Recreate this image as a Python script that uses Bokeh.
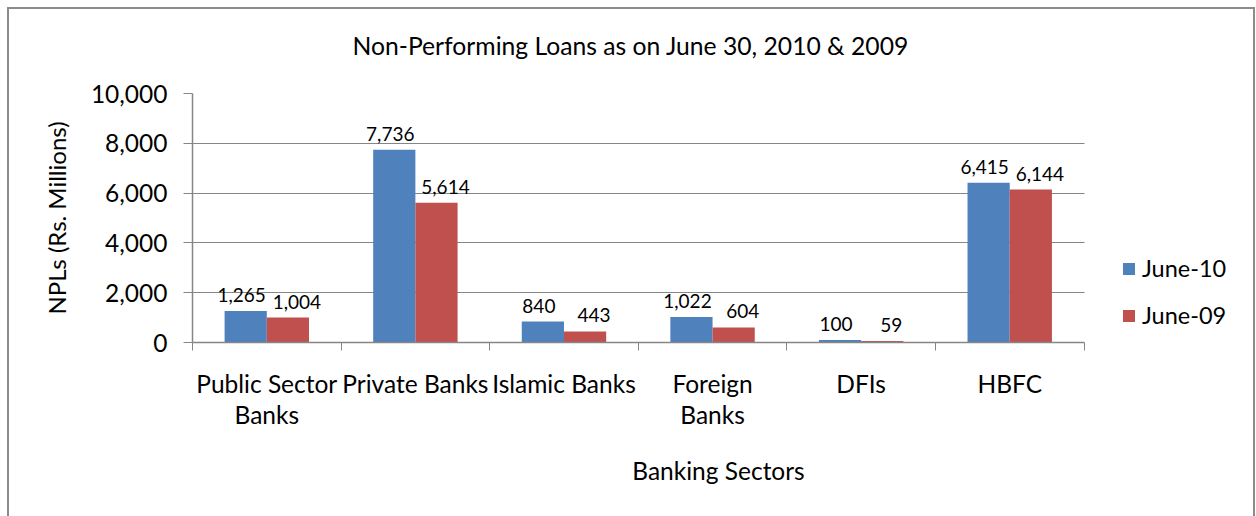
from bokeh.plotting import figure
from bokeh.models import (Range1d, LinearAxis, FixedTicker, Title,
                          NumeralTickFormatter, Legend, LegendItem, ColumnDataSource)
from bokeh.transform import dodge
from bokeh.core.properties import value
from bokeh.embed import file_html
from bokeh.resources import INLINE

# ---- data ----
sectors = ["Public Sector Banks", "Private Banks", "Islamic Banks", "Foreign Banks", "DFIs", "HBFC"]
label_line1 = ["Public Sector", "Private Banks", "Islamic Banks", "Foreign", "DFIs", "HBFC"]
label_line2 = ["Banks", "", "", "Banks", "", ""]
june_10 = [1265, 7736, 840, 1022, 100, 6415]
june_09 = [1004, 5614, 443, 604, 59, 6144]
series_names = ["June-10", "June-09"]
y_ticks = [0, 2000, 4000, 6000, 8000, 10000]
title_text = "Non-Performing Loans as on June 30, 2010 & 2009"

FONT = "Lato"
GRAY = "#868686"
BLUE = "#4F81BD"
RED = "#C0504D"
AX_FS = "24.5px"

n = len(sectors)
centers = [i + 0.5 for i in range(n)]      # category slots on the x scale

W, H = 1248, 509
CW = W - 4                     # canvas width inside the border
X_END = 7.08                   # room on the right of the categories for the legend
p = figure(x_range=Range1d(0, X_END), y_range=Range1d(0, 10000),
           width=W, height=H, output_backend="svg", toolbar_location=None,
           x_axis_location=None,
           min_border_left=183, min_border_right=CW - 1231,
           min_border_top=84, min_border_bottom=H - 333)
p.margin = (7, 0, 0, 7)
p.styles = {"border-left": "2px solid #8c8c8c", "border-top": "2px solid #8c8c8c",
            "border-right": "2px solid #8c8c8c", "box-sizing": "border-box"}
p.outline_line_color = None

# spacer between title and plot area: an axis above the frame with one white
# tick in the empty area on the right, no label
spacer_tick = n + 0.5
top_space = LinearAxis(ticker=FixedTicker(ticks=[spacer_tick]), major_tick_in=0, major_tick_out=29,
                       major_tick_line_color="white", minor_tick_line_color=None,
                       axis_line_color=None, major_label_overrides={spacer_tick: ""},
                       major_label_text_font_size="1px", major_label_standoff=0)
p.add_layout(top_space, "above")

# title (outside the spacer)
title = Title(text=title_text, align="left", offset=160, text_font=FONT,
              text_font_style="normal", text_font_size="24.7px", text_color="black",
              standoff=10)
p.add_layout(title, "above")

# y axis
ya = p.yaxis[0]
ya.ticker = FixedTicker(ticks=y_ticks)
ya.formatter = NumeralTickFormatter(format="0,0")
ya.major_tick_in = 0
ya.major_tick_out = 9
ya.minor_tick_line_color = None
ya.axis_line_color = GRAY
ya.axis_line_width = 1.5
ya.major_tick_line_color = GRAY
ya.major_label_text_font = FONT
ya.major_label_text_font_size = AX_FS
ya.major_label_text_color = "black"
ya.major_label_standoff = 16
ya.axis_label = "NPLs (Rs. Millions)"
ya.axis_label_text_font = FONT
ya.axis_label_text_font_style = "normal"
ya.axis_label_text_font_size = "24px"
ya.axis_label_text_color = "black"
ya.axis_label_standoff = 17

p.ygrid.ticker = FixedTicker(ticks=y_ticks)
p.ygrid.grid_line_color = GRAY
p.ygrid.cross_bounds = (0, n)
p.xgrid.grid_line_color = None

# x axis: tick marks at the category boundaries (minor ticks, no labels)
tick_axis = LinearAxis(ticker=FixedTicker(ticks=[], minor_ticks=list(range(n + 1))),
                       bounds=(0, n),
                       major_tick_line_color=None,
                       minor_tick_in=0, minor_tick_out=8, minor_tick_line_color=GRAY,
                       axis_line_color=GRAY, axis_line_width=1.5)
p.add_layout(tick_axis, "below")

line1_axis = LinearAxis(ticker=FixedTicker(ticks=centers),
                        major_label_overrides=dict(zip(centers, label_line1)),
                        major_tick_line_color=None, minor_tick_line_color=None,
                        axis_line_color=None,
                        major_label_text_font=FONT, major_label_text_font_size=AX_FS,
                        major_label_text_color="black", major_label_standoff=12)
p.add_layout(line1_axis, "below")

# second line of the two-line category labels
second = [(c, t) for c, t in zip(centers, label_line2) if t]
line2_axis = LinearAxis(ticker=FixedTicker(ticks=[c for c, _ in second]),
                        major_label_overrides={c: t for c, t in second},
                        major_tick_line_color=None, minor_tick_line_color=None,
                        axis_line_color=None,
                        major_label_text_font=FONT, major_label_text_font_size=AX_FS,
                        major_label_text_color="black", major_label_standoff=-7,
                        axis_label="Banking Sectors", axis_label_text_font=FONT,
                        axis_label_text_font_style="normal", axis_label_text_font_size=AX_FS,
                        axis_label_text_color="black", axis_label_standoff=24)
p.add_layout(line2_axis, "below")

# bars
src = ColumnDataSource(dict(x=centers, sector=sectors, june_10=june_10, june_09=june_09,
                            l10=[f"{v:,}" for v in june_10], l09=[f"{v:,}" for v in june_09]))
off = 0.142
bw = 0.284
r1 = p.vbar(x=dodge("x", -off), top="june_10", width=bw,
            source=src, fill_color=BLUE, line_color=None)
r2 = p.vbar(x=dodge("x", off), top="june_09", width=bw,
            source=src, fill_color=RED, line_color=None)

p.text(x=dodge("x", -off), y="june_10", text="l10", source=src,
       text_align="center", text_baseline="alphabetic", x_offset=-4, y_offset=-16,
       text_font=value(FONT), text_font_size="19px", text_color="black")
p.text(x=dodge("x", off), y="june_09", text="l09", source=src,
       text_align="center", text_baseline="alphabetic", x_offset=9, y_offset=-16,
       text_font=value(FONT), text_font_size="19px", text_color="black")

legend = Legend(items=[LegendItem(label=series_names[0], renderers=[r1]),
                       LegendItem(label=series_names[1], renderers=[r2])],
                location=(929, 12), orientation="vertical",
                glyph_width=15, glyph_height=15, label_height=30, spacing=17,
                label_standoff=6, padding=0, margin=0,
                border_line_color=None, background_fill_alpha=0,
                label_text_font=FONT, label_text_font_size="23.5px", label_text_color="black")
p.add_layout(legend, "center")

open("out.html", "w").write(file_html(p, INLINE))
